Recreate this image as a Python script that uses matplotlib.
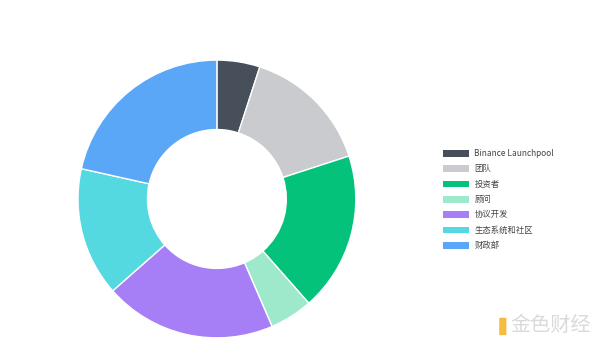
import matplotlib.pyplot as plt
from matplotlib.patches import Patch, FancyBboxPatch

plt.rcParams['font.family'] = ['Noto Sans CJK SC', 'DejaVu Sans']

labels = ['Binance Launchpool', '团队', '投资者', '顾问', '协议开发', '生态系统和社区', '财政部']
shares = [5, 15, 18.5, 5, 20, 15, 21.5]
colors = ['#474f5a', '#c9cbcf', '#04c27a', '#9ee8cc', '#a67ef5', '#54d9e0', '#5aa6f7']

fig = plt.figure(figsize=(6, 3.55), dpi=100)
ax = fig.add_axes([0.13, 0.048, 0.463, 0.783])
wedges, _ = ax.pie(shares, colors=colors, startangle=90, counterclock=False,
                   radius=1, wedgeprops=dict(width=0.5, edgecolor='white', linewidth=1))
ax.set_xlim(-1.0, 1.0)
ax.set_ylim(-1.0, 1.0)
ax.axis('off')

handles = [Patch(facecolor=c, edgecolor='none') for c in colors]
leg = fig.legend(handles, labels, loc='upper left', bbox_to_anchor=(0.738, 0.58),
                 frameon=False, fontsize=6, handlelength=3.1, handleheight=0.85,
                 labelspacing=0.76, handletextpad=0.7, borderpad=0, borderaxespad=0)
for t in leg.get_texts():
    t.set_color('#444444')

# watermark
fig.patches.append(FancyBboxPatch((0.834, 0.058), 0.008, 0.045, boxstyle='round,pad=0.002',
                                  transform=fig.transFigure, facecolor='#f5b120',
                                  edgecolor='none', alpha=0.85))
fig.text(0.85, 0.082, '金色财经', fontsize=14.5, color='#dadada', va='center', ha='left')

fig.savefig('out.png', dpi=100)
